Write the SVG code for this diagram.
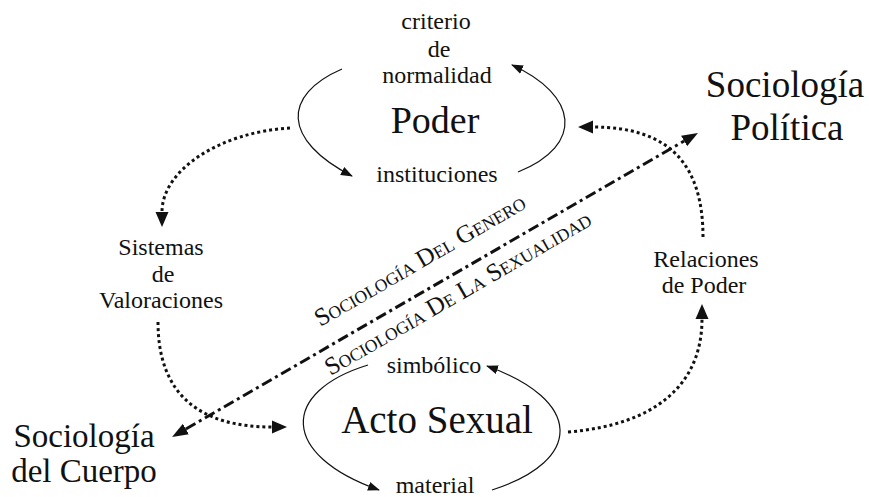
<svg xmlns="http://www.w3.org/2000/svg" width="869" height="497" viewBox="0 0 869 497">
<style>
  text { font-family: "Liberation Serif", "Times New Roman", serif; fill: #111; }
  .lbl { font-size: 24px; text-anchor: middle; }
  .big { font-size: 38px; text-anchor: middle; }
  .sc { font-size: 25px; text-anchor: middle; }
  .sm { font-size: 17.5px; }
  .arc { fill: none; stroke: #111; stroke-width: 1.2; marker-end: url(#arrS); }
  .dot { fill: none; stroke: #111; stroke-width: 3; stroke-dasharray: 3 3; marker-end: url(#arrD); }
  .dd { fill: none; stroke: #111; stroke-width: 3; stroke-dasharray: 11 4 3 4; marker-start: url(#arrL); marker-end: url(#arrL); }
</style>
<defs>
  <marker id="arrS" markerUnits="userSpaceOnUse" viewBox="0 -5 12 10" refX="11" refY="0" markerWidth="12" markerHeight="10" orient="auto">
    <path d="M0,-4.5 L12,0 L0,4.5 z" fill="#111"/>
  </marker>
  <marker id="arrD" markerUnits="userSpaceOnUse" viewBox="0 -7 16 14" refX="0" refY="0" markerWidth="16" markerHeight="14" orient="auto">
    <path d="M0,-6.5 L15,0 L0,6.5 z" fill="#111"/>
  </marker>
  <marker id="arrL" markerUnits="userSpaceOnUse" viewBox="0 -7 17 14" refX="0" refY="0" markerWidth="17" markerHeight="14" orient="auto-start-reverse">
    <path d="M0,-6 L16,0 L0,6 z" fill="#111"/>
  </marker>
</defs>
<rect width="869" height="497" fill="#fff"/>

<g id="connectors">
  <path class="arc" d="M342,69 C282,95 282,140 352,176"/>
  <path class="arc" d="M518,172 C585,145 578,95 512,65"/>
  <path class="arc" d="M368,365 C280,392 280,455 379,490"/>
  <path class="arc" d="M492,490 C585,460 582,400 487,366"/>
  <path class="dot" d="M290,128 C220,132 162,170 162,212"/>
  <path class="dot" d="M158,322 C158,395 200,427 272,427"/>
  <path class="dot" d="M568,432 C655,425 702,385 702,319"/>
  <path class="dot" d="M703,237 C703,165 670,127 593,127"/>
  <path class="dd" d="M185.9,429 L684.1,141"/>
</g>

<g id="poder">
  <text class="lbl" x="436" y="29">criterio</text>
  <text class="lbl" x="439" y="57">de</text>
  <text class="lbl" x="437" y="83">normalidad</text>
  <text class="big" x="435" y="133">Poder</text>
  <text class="lbl" x="437" y="182">instituciones</text>
</g>

<g id="sistemas">
  <text class="lbl" x="161" y="255">Sistemas</text>
  <text class="lbl" x="163" y="282">de</text>
  <text class="lbl" x="161" y="308">Valoraciones</text>
</g>

<g id="relaciones">
  <text class="lbl" x="706" y="267">Relaciones</text>
  <text class="lbl" x="704" y="293">de Poder</text>
</g>

<g id="acto">
  <text class="lbl" x="434" y="373">simbólico</text>
  <text class="big" x="437" y="433" style="font-size:39px">Acto Sexual</text>
  <text class="lbl" x="435" y="493">material</text>
</g>

<g id="politica">
  <text class="big" x="785" y="97" style="font-size:37px">Sociología</text>
  <text class="big" x="787" y="140" style="font-size:37px">Política</text>
</g>

<g id="cuerpo">
  <text class="big" x="84" y="447" style="font-size:33px">Sociología</text>
  <text class="big" x="84" y="482" style="font-size:33px">del Cuerpo</text>
</g>

<g id="ejes" transform="translate(172,437) rotate(-30.03)">
  <text class="sc" x="303" y="-21">S<tspan class="sm">OCIOLOGÍA</tspan> D<tspan class="sm">EL</tspan> G<tspan class="sm">ENERO</tspan></text>
  <text class="sc" x="319.5" y="26.5">S<tspan class="sm">OCIOLOGÍA</tspan> D<tspan class="sm">E</tspan> L<tspan class="sm">A</tspan> S<tspan class="sm">EXUALIDAD</tspan></text>
</g>
</svg>
